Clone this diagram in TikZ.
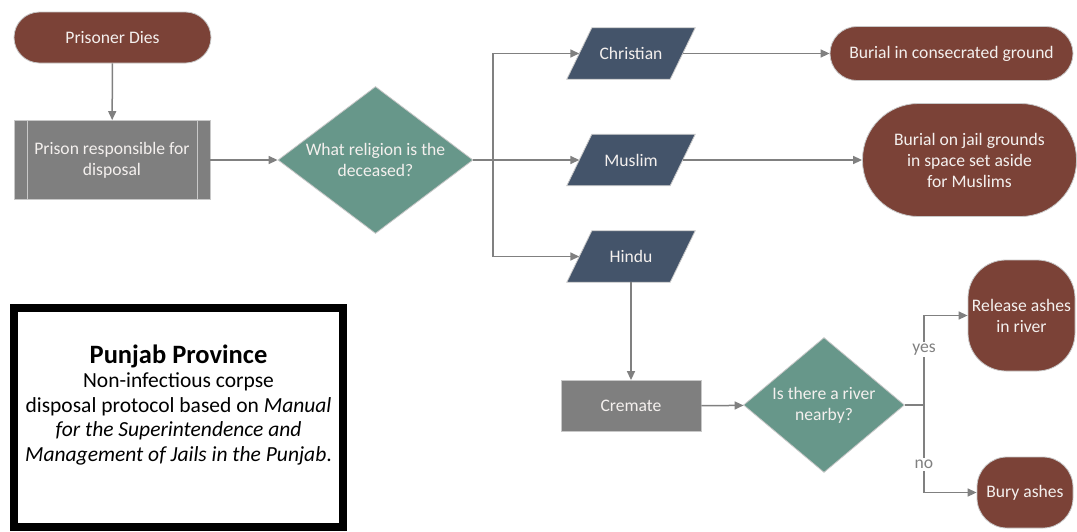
\documentclass[tikz,border=0pt]{standalone}
\usepackage{fontspec}
\setmainfont{Carlito}
\usetikzlibrary{shapes.geometric,arrows.meta,backgrounds}
\definecolor{brownc}{HTML}{7B4237}
\definecolor{grayc}{HTML}{7F7F7F}
\definecolor{slatec}{HTML}{44546A}
\definecolor{tealc}{HTML}{67978A}
\definecolor{linec}{HTML}{808080}
\definecolor{edgec}{HTML}{C8C8C8}
\definecolor{txtc}{HTML}{F4F0EE}
\begin{document}
\begin{tikzpicture}[x=1pt,y=-1pt,
  base/.style={text=txtc, font=\fontsize{17.6}{21}\selectfont, align=center, inner sep=0pt, draw=edgec, line width=0.8pt},
  terminal/.style={base, fill=brownc, rectangle, rounded corners=#1},
  proc/.style={base, fill=grayc, rectangle},
  predef/.style={proc, path picture={
      \draw[edgec, line width=0.8pt] ([xshift=13pt]path picture bounding box.south west) -- ([xshift=13pt]path picture bounding box.north west);
      \draw[edgec, line width=0.8pt] ([xshift=-13pt]path picture bounding box.south east) -- ([xshift=-13pt]path picture bounding box.north east);}},
  io/.style={rectangle, text=txtc, font=\fontsize{17.6}{21}\selectfont, inner sep=0pt, minimum width=103, minimum height=51},
  decision/.style={base, fill=tealc, diamond},
  arr/.style={draw=linec, line width=1.5pt, -{Triangle[length=9pt,width=8pt]}},
  plain/.style={draw=linec, line width=1.5pt},
  lbl/.style={fill=white, text=linec, font=\fontsize{17.6}{21}\selectfont, inner sep=2pt}
]
\useasboundingbox (0,0) rectangle (1077,531);

% nodes
\node[terminal=25.5, minimum width=197, minimum height=51] (dies) at (112.5,37.5) {Prisoner Dies};
\node[predef, minimum width=196, minimum height=79] (prison) at (112,160) {Prison responsible for\\disposal};
\node[decision, aspect=1.33, minimum width=195, minimum height=147] (rel) at (375.5,160) {What religion is the\\deceased?};
\node[io] (chr) at (631,53.5) {Christian};
\node[io] (mus) at (631,160) {Muslim};
\node[io] (hin) at (631,256.5) {Hindu};
\begin{scope}[on background layer]
  \fill[white] (0,0) rectangle (1077,531);
  \foreach \n in {chr,mus,hin}
    \filldraw[fill=slatec, draw=edgec, line width=0.8pt] ([xshift=-12.5pt]\n.south west) -- ([xshift=12.5pt]\n.north west) -- ([xshift=12.5pt]\n.north east) -- ([xshift=-12.5pt]\n.south east) -- cycle;
\end{scope}
\node[terminal=27, minimum width=243, minimum height=54] (bcons) at (951.5,53.5) {Burial in consecrated ground};
\node[terminal=56, minimum width=214, minimum height=113] (bjail) at (969.5,160) {Burial on jail grounds\\in space set aside\\for Muslims};
\node[proc, minimum width=140, minimum height=51] (crem) at (631,406) {Cremate};
\node[decision, aspect=1.2, minimum width=161, minimum height=135] (river) at (824,405) {Is there a river\\nearby?};
\node[terminal=38, minimum width=107, minimum height=111] (release) at (1021.5,315.5) {Release ashes\\in river};
\node[terminal=30, minimum width=96, minimum height=71] (bury) at (1025,492.5) {Bury ashes};

% legend
\node[draw=black, line width=8pt, minimum width=329, minimum height=219, inner sep=0pt] (legbox) at (178.5,417.5) {};
\node[align=center, font=\fontsize{21.5}{24.5}\selectfont, inner sep=0pt] (legtext) at (178.5,405)
  {{\fontsize{26.5}{27}\selectfont\bfseries Punjab Province}\\
   Non-infectious corpse\\
   disposal protocol based on \textit{Manual}\\
   \textit{for the Superintendence and}\\
   \textit{Management of Jails in the Punjab}.};

% connectors
\coordinate (b1) at (493,160);
\coordinate (b2) at (924,405);
\draw[arr] (dies) -- (prison);
\draw[arr] (prison) -- (rel);
\draw[plain] (rel.east) -- (b1);
\draw[arr] (b1) |- (chr.west);
\draw[arr] (b1) -- (mus.west);
\draw[arr] (b1) |- (hin.west);
\draw[arr] (chr.east) -- (bcons.west);
\draw[arr] (mus.east) -- (bjail.west);
\draw[arr] (hin.south) -- (crem.north);
\draw[arr] (crem) -- (river);
\draw[plain] (river.east) -- (b2);
\draw[arr] (b2) |- node[pos=0.31, lbl] {yes} (release.west);
\draw[arr] (b2) |- node[pos=0.34, lbl] {no} (bury.west);
\end{tikzpicture}
\end{document}
